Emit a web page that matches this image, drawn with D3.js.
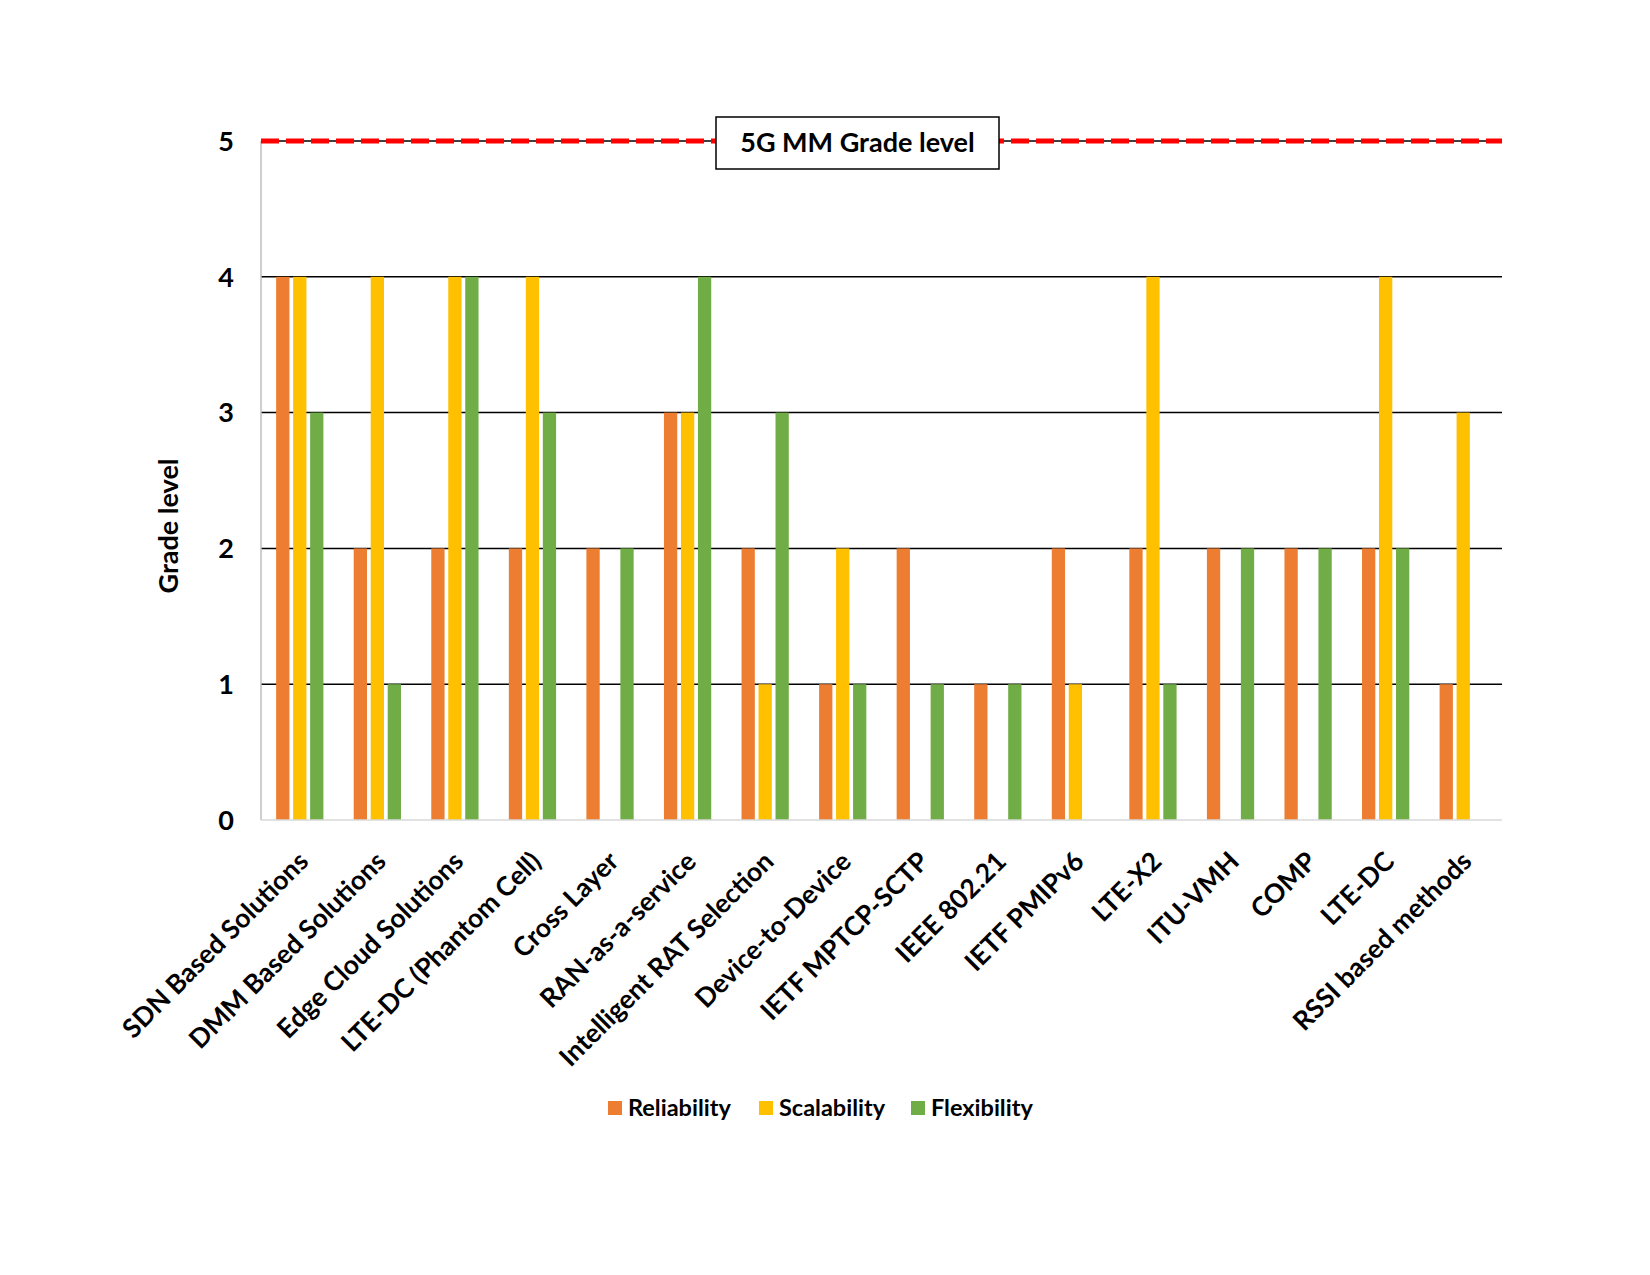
<!DOCTYPE html>
<html>
<head>
<meta charset="utf-8">
<script src="https://cdn.jsdelivr.net/npm/d3@7"></script>
<style>
  body { margin: 0; background: #fff; }
  text { font-family: Lato, "Open Sans", sans-serif; font-weight: bold; }
</style>
</head>
<body>
<div class="chart"></div>
<script>
const categories = [
  'SDN Based Solutions', 'DMM Based Solutions', 'Edge Cloud Solutions',
  'LTE-DC (Phantom Cell)', 'Cross Layer', 'RAN-as-a-service',
  'Intelligent RAT Selection', 'Device-to-Device', 'IETF MPTCP-SCTP',
  'IEEE 802.21', 'IETF PMIPv6', 'LTE-X2', 'ITU-VMH', 'COMP', 'LTE-DC',
  'RSSI based methods',
]
const seriesNames = ['Reliability', 'Scalability', 'Flexibility']
const reliability = [4, 2, 2, 2, 2, 3, 2, 1, 2, 1, 2, 2, 2, 2, 2, 1]
const scalability = [4, 4, 4, 4, 0, 3, 1, 2, 0, 0, 1, 4, 0, 0, 4, 3]
const flexibility = [3, 1, 4, 3, 2, 4, 3, 1, 1, 1, 0, 1, 2, 2, 2, 0]
const yTicks = [0, 1, 2, 3, 4, 5]
const targetLevel = 5
const targetLabel = '5G MM Grade level'

const colors = ['#ED7D31', '#FFC000', '#70AD47']
const values = [reliability, scalability, flexibility]

const margin = { top: 141, right: 148, bottom: 455, left: 261 }
const W = 1650
const H = 1275
const width = W - margin.left - margin.right
const height = H - margin.top - margin.bottom

const svg = d3.select('.chart')
  .append('svg')
  .attr('width', W)
  .attr('height', H)

const g = svg.append('g')
  .attr('transform', `translate(${margin.left},${margin.top})`)

const x = d3.scaleBand()
  .domain(categories)
  .range([0, width])
  .paddingInner(0.343)
  .paddingOuter(0.1715)

const x1 = d3.scaleBand()
  .domain(seriesNames)
  .range([0, x.bandwidth()])
  .paddingInner(0.218)
  .paddingOuter(0.109)

const y = d3.scaleLinear()
  .domain([0, 5])
  .range([height, 0])

// gridlines
g.selectAll('.grid')
  .data(yTicks.filter(d => d > 0))
  .enter()
  .append('line')
  .attr('x1', 0)
  .attr('x2', width)
  .attr('y1', d => y(d))
  .attr('y2', d => y(d))
  .attr('stroke', '#000')
  .attr('stroke-width', 1.5)

// bars
const rows = categories.map((c, i) => ({
  cat: c,
  vals: seriesNames.map((s, j) => ({ s, j, v: values[j][i] })),
}))

const group = g.selectAll('.cat')
  .data(rows)
  .enter()
  .append('g')
  .attr('transform', d => `translate(${x(d.cat)},0)`)

group.selectAll('rect')
  .data(d => d.vals.filter(v => v.v > 0))
  .enter()
  .append('rect')
  .attr('x', d => x1(d.s))
  .attr('width', x1.bandwidth())
  .attr('y', d => y(d.v))
  .attr('height', d => height - y(d.v))
  .attr('fill', d => colors[d.j])

// axes lines
g.append('line')
  .attr('x1', 0).attr('x2', 0)
  .attr('y1', 0).attr('y2', height)
  .attr('stroke', '#bfbfbf')
  .attr('stroke-width', 1.5)

g.append('line')
  .attr('x1', 0).attr('x2', width)
  .attr('y1', height).attr('y2', height)
  .attr('stroke', '#d9d9d9')
  .attr('stroke-width', 1.5)

// target line
g.append('line')
  .attr('x1', 0)
  .attr('x2', width)
  .attr('y1', y(targetLevel))
  .attr('y2', y(targetLevel))
  .attr('stroke', '#FF0000')
  .attr('stroke-width', 5)
  .attr('stroke-dasharray', '18,7')

// y tick labels
g.selectAll('.ytick')
  .data(yTicks)
  .enter()
  .append('text')
  .attr('x', -27)
  .attr('y', d => y(d))
  .attr('dy', '0.36em')
  .attr('text-anchor', 'end')
  .attr('font-size', 27)
  .text(d => d)

// category labels
g.selectAll('.xlabel')
  .data(categories)
  .enter()
  .append('text')
  .attr('transform', d => `translate(${x(d) + x.bandwidth() / 2 - 3},${height + 30}) rotate(-45)`)
  .attr('text-anchor', 'end')
  .attr('dy', '0.7em')
  .attr('font-size', 26.5)
  .text(d => d)

// y title
svg.append('text')
  .attr('transform', `translate(169,526) rotate(-90)`)
  .attr('text-anchor', 'middle')
  .attr('dy', '0.35em')
  .attr('font-size', 27)
  .text('Grade level')

// target box
const boxX = 716
const boxW = 283
const boxH = 52
const ty = margin.top + y(targetLevel)
svg.append('rect')
  .attr('x', boxX)
  .attr('y', ty - 24)
  .attr('width', boxW)
  .attr('height', boxH)
  .attr('fill', '#fff')
  .attr('stroke', '#000')
  .attr('stroke-width', 1.5)

svg.append('text')
  .attr('x', boxX + boxW / 2)
  .attr('y', ty - 24 + boxH / 2)
  .attr('dy', '0.35em')
  .attr('text-anchor', 'middle')
  .attr('font-size', 27)
  .text(targetLabel)

// legend
const legendX = [608, 759, 911]
const legend = svg.selectAll('.legend')
  .data(seriesNames)
  .enter()
  .append('g')
  .attr('transform', (d, i) => `translate(${legendX[i]},1108)`)

legend.append('rect')
  .attr('x', 0)
  .attr('y', -7)
  .attr('width', 14)
  .attr('height', 14)
  .attr('fill', (d, i) => colors[i])

legend.append('text')
  .attr('x', 20)
  .attr('dy', '0.35em')
  .attr('font-size', 23.5)
  .text(d => d)
</script>
</body>
</html>
